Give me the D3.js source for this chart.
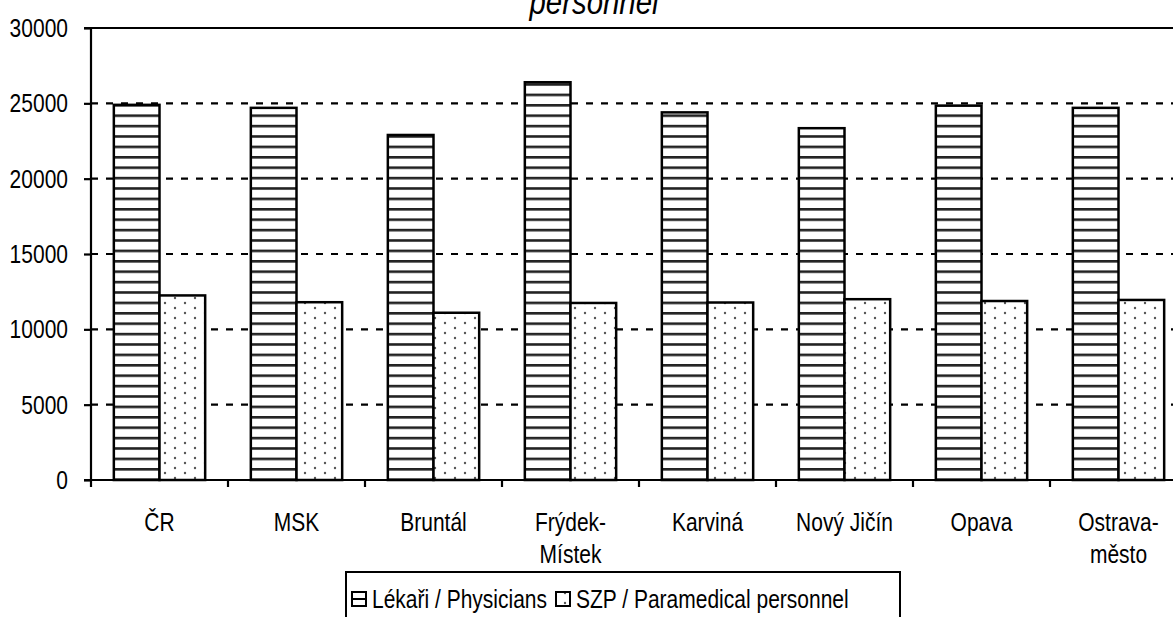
<!DOCTYPE html>
<html><head><meta charset="utf-8">
<script src="https://cdn.jsdelivr.net/npm/d3@7"></script>
<style>
html,body{margin:0;padding:0;background:#fff;}
svg{display:block;font-family:"Liberation Sans",Arial,sans-serif;}
</style></head>
<body>
<svg id="chart" width="1173" height="617"></svg>
<script>
const categories = [["ČR"],["MSK"],["Bruntál"],["Frýdek-","Místek"],["Karviná"],["Nový Jičín"],["Opava"],["Ostrava-","město"]];
const seriesNames = ["Lékaři / Physicians","SZP / Paramedical personnel"];
const physicians = [24900, 24700, 22900, 26400, 24400, 23350, 24850, 24700];
const paramedical = [12250, 11800, 11100, 11750, 11780, 12000, 11880, 11950];
const yTicks = [0,5000,10000,15000,20000,25000,30000];
const titleText = "personnel";

(function(){
const svg = d3.select("#chart");
const pLeft = 91, pRight = 1187, pTop = 28, pBottom = 480;
const FS = 25, SX = 0.84;

function label(parent, x, y, txt, anchor, opts){
  opts = opts || {};
  const gg = parent.append("g").attr("transform",`translate(${x},${y}) scale(${opts.sx||SX},1)`);
  return gg.append("text").attr("x",0).attr("y",0).attr("text-anchor",anchor||"start")
    .attr("font-size",opts.fs||FS).attr("font-style",opts.italic?"italic":"normal")
    .attr("fill","#000").text(txt);
}

const defs = svg.append("defs");
const pH = defs.append("pattern").attr("id","hlines").attr("patternUnits","userSpaceOnUse")
  .attr("width",10).attr("height",10.4);
pH.append("rect").attr("width",10).attr("height",10.4).attr("fill","#fff");
pH.append("rect").attr("y",0).attr("width",10).attr("height",2.6).attr("fill","#222");
const pD = defs.append("pattern").attr("id","dots").attr("patternUnits","userSpaceOnUse")
  .attr("width",20).attr("height",10);
pD.append("rect").attr("width",20).attr("height",10).attr("fill","#fff");
pD.append("circle").attr("cx",5).attr("cy",3).attr("r",1.2).attr("fill","#555");
pD.append("circle").attr("cx",15).attr("cy",8).attr("r",1.2).attr("fill","#555");
const fills = ["url(#hlines)","url(#dots)"];

const x0 = d3.scaleBand().domain(d3.range(categories.length)).range([pLeft,pRight]).padding(0);
const x1 = d3.scaleBand().domain([0,1]).range([0,x0.bandwidth()]).paddingInner(0).paddingOuter(0.5);
const y = d3.scaleLinear().domain([0,30000]).range([pBottom,pTop]);

// gridlines
svg.append("g").selectAll("line").data(yTicks.filter(t=>t>0 && t<30000)).join("line")
  .attr("x1",pLeft).attr("x2",1173).attr("y1",d=>y(d)).attr("y2",d=>y(d))
  .attr("stroke","#000").attr("stroke-width",2.2).attr("stroke-dasharray","7,8");
// top border
svg.append("line").attr("x1",pLeft).attr("x2",1173).attr("y1",y(30000)).attr("y2",y(30000))
  .attr("stroke","#000").attr("stroke-width",2.2);

// bars
const data = [physicians, paramedical];
const g = svg.append("g");
categories.forEach((c,i)=>{
  data.forEach((s,k)=>{
    g.append("rect")
      .attr("x", x0(i)+x1(k)).attr("width", x1.bandwidth())
      .attr("y", y(s[i])).attr("height", y(0)-y(s[i]))
      .attr("fill", fills[k]).attr("stroke","#000").attr("stroke-width",2.5);
  });
});

// y axis
const yAxis = d3.axisLeft(y).tickValues(yTicks).tickSize(7).tickFormat("");
const ya = svg.append("g").attr("transform",`translate(${pLeft},0)`).call(yAxis);
ya.select(".domain").attr("stroke-width",2.2).attr("d",`M-7,${pBottom}H0V${pTop}H-7`);
ya.selectAll(".tick line").attr("stroke-width",2.2);
const fmt = d3.format("d");
yTicks.forEach(t=>label(svg, 68, y(t)+9, fmt(t), "end"));

// x axis
const xa = svg.append("g").attr("transform",`translate(0,${pBottom})`);
xa.append("line").attr("x1",pLeft-7).attr("x2",1173).attr("y1",0).attr("y2",0).attr("stroke","#000").attr("stroke-width",2.2);
xa.selectAll("line.tk").data(d3.range(categories.length+1)).join("line").attr("class","tk")
  .attr("x1",d=>pLeft+d*x0.step()).attr("x2",d=>pLeft+d*x0.step()).attr("y1",0).attr("y2",7)
  .attr("stroke","#000").attr("stroke-width",2.2);
categories.forEach((c,i)=>{
  c.forEach((line,j)=>label(xa, x0(i)+x0.bandwidth()/2, 51 + j*32, line, "middle"));
});

// title (clipped)
label(svg, 594, 14, titleText, "middle", {fs:35, italic:true});

// legend
const lg = svg.append("g");
lg.append("rect").attr("x",346).attr("y",572).attr("width",554).attr("height",60)
  .attr("fill","#fff").attr("stroke","#000").attr("stroke-width",2);
const legX = [352, 556];
seriesNames.forEach((n,k)=>{
  lg.append("rect").attr("x",legX[k]).attr("y",592).attr("width",14).attr("height",14)
    .attr("fill", k===0 ? "#fff" : fills[1]).attr("stroke","#000").attr("stroke-width",2);
  if(k===0) lg.append("line").attr("x1",legX[k]).attr("x2",legX[k]+14).attr("y1",599).attr("y2",599).attr("stroke","#000").attr("stroke-width",2);
  label(lg, legX[k]+20, 608, n, "start");
});
})();
</script>
</body></html>
